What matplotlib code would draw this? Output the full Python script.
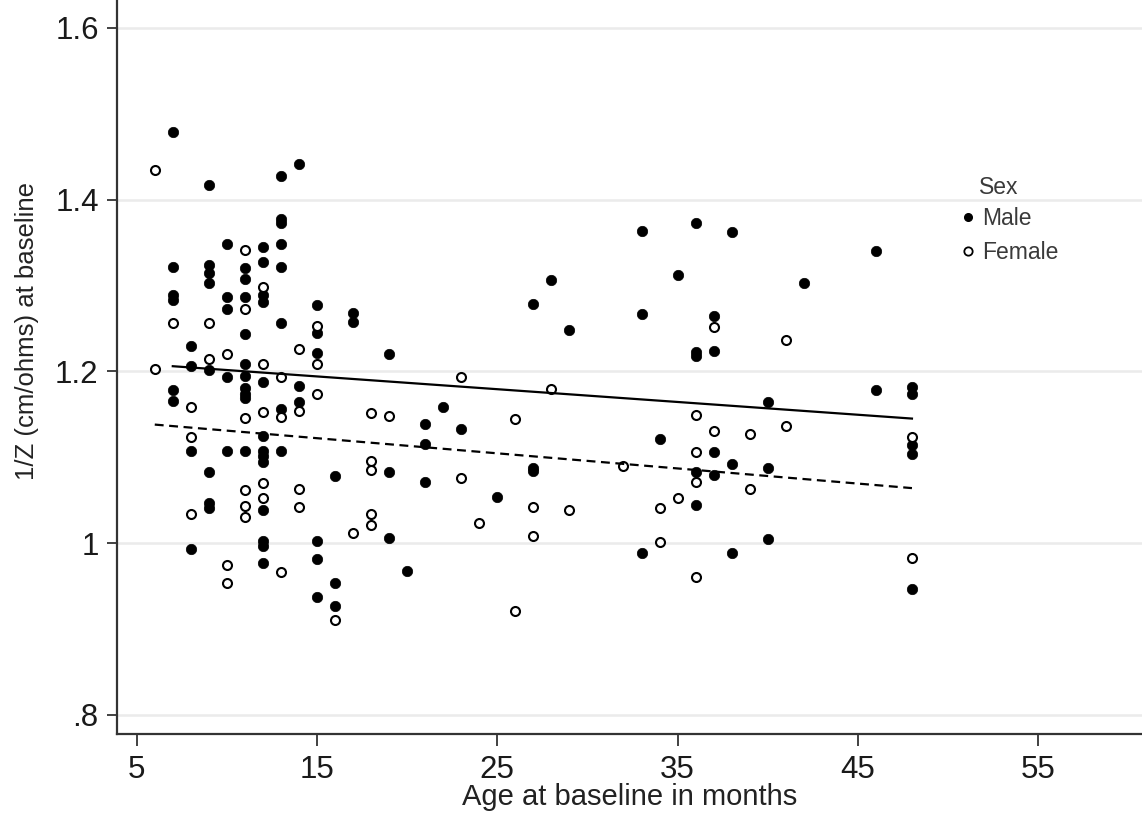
import matplotlib
matplotlib.use("Agg")
import matplotlib.pyplot as plt
from matplotlib.lines import Line2D

plt.rcParams['font.family'] = ['Liberation Sans', 'DejaVu Sans']

# Data: age (months) and 1/Z per sex
male_age = [7, 7, 7, 7, 7, 7,
            8, 8, 8, 8,
            9, 9, 9, 9, 9, 9, 9, 9,
            10, 10, 10, 10, 10,
            11, 11, 11, 11, 11, 11, 11, 11, 11, 11,
            12, 12, 12, 12, 12, 12, 12, 12, 12, 12, 12, 12, 12,
            13, 13, 13, 13, 13, 13, 13, 13,
            14, 14, 14,
            15, 15, 15, 15, 15, 15,
            16, 16, 16,
            17, 17,
            19, 19, 19,
            20,
            21, 21, 21,
            22, 23, 25,
            27, 27, 27,
            28, 29,
            33, 33, 33,
            34, 35,
            36, 36, 36, 36, 36,
            37, 37, 37, 37,
            38, 38, 38,
            40, 40, 40,
            42,
            46, 46,
            48, 48, 48, 48, 48]
male_val = [1.479, 1.322, 1.289, 1.283, 1.178, 1.166,
            1.230, 1.206, 1.107, 0.993,
            1.417, 1.324, 1.314, 1.303, 1.202, 1.083, 1.047, 1.041,
            1.348, 1.287, 1.273, 1.193, 1.107,
            1.320, 1.308, 1.287, 1.243, 1.209, 1.195, 1.181, 1.174, 1.169, 1.107,
            1.345, 1.327, 1.289, 1.281, 1.188, 1.125, 1.107, 1.101, 1.094, 1.038, 1.002, 0.996, 0.977,
            1.428, 1.378, 1.373, 1.348, 1.321, 1.256, 1.156, 1.107,
            1.442, 1.183, 1.164,
            1.277, 1.245, 1.221, 1.002, 0.981, 0.937,
            1.078, 0.954, 0.927,
            1.268, 1.258,
            1.220, 1.083, 1.006,
            0.968,
            1.139, 1.115, 1.071,
            1.158, 1.133, 1.054,
            1.279, 1.088, 1.084,
            1.306, 1.248,
            1.363, 1.267, 0.988,
            1.121, 1.312,
            1.373, 1.222, 1.218, 1.083, 1.044,
            1.265, 1.224, 1.106, 1.079,
            1.362, 1.092, 0.988,
            1.164, 1.087, 1.005,
            1.303,
            1.340, 1.178,
            1.182, 1.174, 1.114, 1.104, 0.946]

female_age = [6, 6, 7,
              8, 8, 8,
              9, 9,
              10, 10, 10,
              11, 11, 11, 11, 11, 11,
              12, 12, 12, 12, 12,
              13, 13, 13,
              14, 14, 14, 14,
              15, 15, 15,
              16, 17,
              18, 18, 18, 18, 18,
              19, 23, 23, 24, 26, 26, 27, 27, 28, 29, 32,
              34, 34, 35,
              36, 36, 36, 36,
              37, 37, 39, 39, 41, 41,
              48, 48]
female_val = [1.435, 1.203, 1.256,
              1.159, 1.123, 1.034,
              1.256, 1.214,
              1.220, 0.974, 0.954,
              1.341, 1.273, 1.146, 1.062, 1.043, 1.030,
              1.298, 1.208, 1.153, 1.070, 1.052,
              1.194, 1.147, 0.966,
              1.226, 1.154, 1.063, 1.042,
              1.253, 1.208, 1.174,
              0.910, 1.012,
              1.151, 1.096, 1.085, 1.034, 1.021,
              1.148, 1.193, 1.076, 1.023, 1.145, 0.921, 1.042, 1.008, 1.179, 1.038, 1.090,
              1.041, 1.001, 1.052,
              1.149, 1.106, 1.071, 0.961,
              1.252, 1.131, 1.127, 1.063, 1.237, 1.136,
              1.124, 0.983]

# Fitted lines (endpoints)
male_fit_x = [7, 48]
male_fit_y = [1.206, 1.145]
female_fit_x = [6, 48]
female_fit_y = [1.138, 1.064]

x_ticks = [5, 15, 25, 35, 45, 55]
y_ticks = [0.8, 1.0, 1.2, 1.4, 1.6]
y_ticklabels = [".8", "1", "1.2", "1.4", "1.6"]

W, H = 1142, 818
fig = plt.figure(figsize=(W / 100, H / 100), dpi=100)
ax = fig.add_axes([0.1022, 0.1021, 0.8978, 0.8979])

ax.set_xlim(3.89, 60.76)
ax.set_ylim(0.777, 1.6326)

ax.set_yticks(y_ticks)
ax.set_yticklabels(y_ticklabels)
ax.set_xticks(x_ticks)
ax.yaxis.grid(True, color='#ebebeb', linewidth=1.8)
ax.set_axisbelow(True)

for side in ['top', 'right']:
    ax.spines[side].set_visible(False)
for side in ['left', 'bottom']:
    ax.spines[side].set_color('#333333')
    ax.spines[side].set_linewidth(1.6)

ax.tick_params(axis='both', width=1.3, color='#333333',
               labelsize=22.5, labelcolor='#1a1a1a')
ax.tick_params(axis='y', length=7, pad=6)
ax.tick_params(axis='x', length=8.5, pad=6)

ax.scatter(male_age, male_val, s=56, color='black', edgecolors='black',
           linewidths=0.5, zorder=3)
ax.scatter(female_age, female_val, s=42, facecolors='white', edgecolors='black',
           linewidths=1.5, zorder=3)

ax.plot(male_fit_x, male_fit_y, color='black', linewidth=1.6, zorder=4)
ax.plot(female_fit_x, female_fit_y, color='black', linewidth=1.6,
        linestyle=(0, (4, 2.5)), zorder=4)

ax.set_xlabel("Age at baseline in months", fontsize=21, color='#222222', labelpad=-1)
ax.set_ylabel("1/Z (cm/ohms) at baseline", fontsize=18.5, color='#222222',
              va='center')
ax_w = W * 0.8978
ax.yaxis.set_label_coords((27 - 116.7) / ax_w, (734.5 - 331) / 734.5)

# Legend
handles = [Line2D([], [], marker='o', linestyle='', markersize=5.5,
                  markerfacecolor='black', markeredgecolor='black'),
           Line2D([], [], marker='o', linestyle='', markersize=6,
                  markerfacecolor='white', markeredgecolor='black', markeredgewidth=1.3)]
leg = ax.legend(handles, ["Male", "Female"], frameon=False,
                loc='upper left', bbox_to_anchor=(961 / W, 1 - 207 / H),
                bbox_transform=fig.transFigure, fontsize=16.5,
                handlelength=0.6, handletextpad=0.3, labelspacing=0.47,
                borderpad=0, borderaxespad=0)
for t in leg.get_texts():
    t.set_color('#3a3a3a')
fig.text(979 / W, 1 - 187 / H, "Sex", fontsize=16.5, color='#3a3a3a',
         ha='left', va='center')

fig.savefig("out.png", dpi=100)
